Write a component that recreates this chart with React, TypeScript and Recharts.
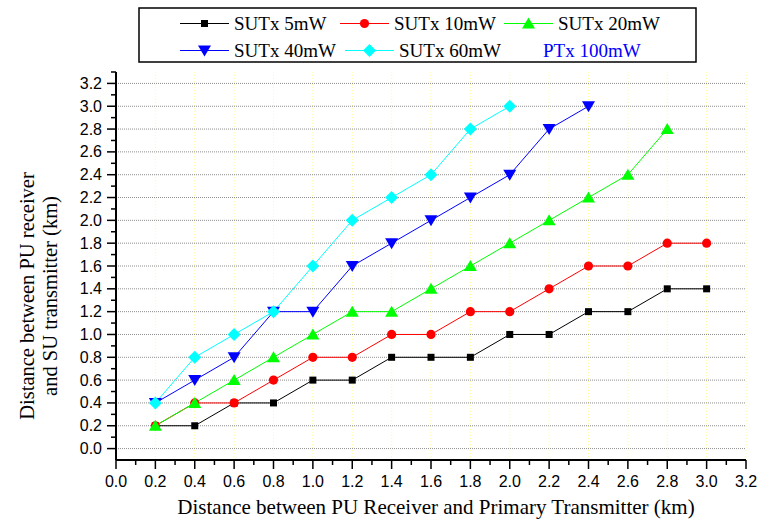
import React from 'react';
import { LineChart, Line, XAxis, YAxis, CartesianGrid } from 'recharts';

// x positions shared by all series (km)
const X_VALUES = [0.2, 0.4, 0.6, 0.8, 1.0, 1.2, 1.4, 1.6, 1.8, 2.0, 2.2, 2.4, 2.6, 2.8, 3.0];

// y values per series (km)
const SUTX_5MW = [0.2, 0.2, 0.4, 0.4, 0.6, 0.6, 0.8, 0.8, 0.8, 1.0, 1.0, 1.2, 1.2, 1.4, 1.4];
const SUTX_10MW = [0.2, 0.4, 0.4, 0.6, 0.8, 0.8, 1.0, 1.0, 1.2, 1.2, 1.4, 1.6, 1.6, 1.8, 1.8];
const SUTX_20MW = [0.2, 0.4, 0.6, 0.8, 1.0, 1.2, 1.2, 1.4, 1.6, 1.8, 2.0, 2.2, 2.4, 2.8];
const SUTX_40MW = [0.4, 0.6, 0.8, 1.2, 1.2, 1.6, 1.8, 2.0, 2.2, 2.4, 2.8, 3.0];
const SUTX_60MW = [0.4, 0.8, 1.0, 1.2, 1.6, 2.0, 2.2, 2.4, 2.8, 3.0];

// ticks: majors get a label, minors are short marks only
const X_TICKS = [0, 0.1, 0.2, 0.3, 0.4, 0.5, 0.6, 0.7, 0.8, 0.9, 1.0, 1.1, 1.2, 1.3, 1.4, 1.5, 1.6,
  1.7, 1.8, 1.9, 2.0, 2.1, 2.2, 2.3, 2.4, 2.5, 2.6, 2.7, 2.8, 2.9, 3.0, 3.1, 3.2];
const Y_TICKS = [-0.1, 0, 0.1, 0.2, 0.3, 0.4, 0.5, 0.6, 0.7, 0.8, 0.9, 1.0, 1.1, 1.2, 1.3, 1.4, 1.5, 1.6,
  1.7, 1.8, 1.9, 2.0, 2.1, 2.2, 2.3, 2.4, 2.5, 2.6, 2.7, 2.8, 2.9, 3.0, 3.1, 3.2, 3.3];
const X_GRID = [0.2, 0.4, 0.6, 0.8, 1.0, 1.2, 1.4, 1.6, 1.8, 2.0, 2.2, 2.4, 2.6, 2.8, 3.0, 3.2];
const Y_GRID = [0, 0.2, 0.4, 0.6, 0.8, 1.0, 1.2, 1.4, 1.6, 1.8, 2.0, 2.2, 2.4, 2.6, 2.8, 3.0, 3.2];

const SERIES_NAMES = ['SUTx 5mW', 'SUTx 10mW', 'SUTx 20mW', 'SUTx 40mW', 'SUTx 60mW'];
const EXTRA_LEGEND = 'PTx 100mW';
const X_TITLE = 'Distance between PU Receiver and Primary Transmitter (km)';
const Y_TITLE = ['Distance between PU receiver', 'and SU transmitter (km)'];

const SERIF = '"Liberation Serif", "Times New Roman", serif';
const SANS = '"Liberation Sans", Arial, sans-serif';

type Shape = 'square' | 'circle' | 'up' | 'down' | 'diamond';

const series = [
  { name: SERIES_NAMES[0], ys: SUTX_5MW, color: '#000000', shape: 'square' as Shape },
  { name: SERIES_NAMES[1], ys: SUTX_10MW, color: '#ff0000', shape: 'circle' as Shape },
  { name: SERIES_NAMES[2], ys: SUTX_20MW, color: '#00ff00', shape: 'up' as Shape },
  { name: SERIES_NAMES[3], ys: SUTX_40MW, color: '#0000ff', shape: 'down' as Shape },
  { name: SERIES_NAMES[4], ys: SUTX_60MW, color: '#00ffff', shape: 'diamond' as Shape },
].map((s) => ({ ...s, data: s.ys.map((y, i) => ({ x: X_VALUES[i], y })) }));

const Marker = ({ cx, cy, shape, color }: { cx: number; cy: number; shape: Shape; color: string }) => {
  switch (shape) {
    case 'square':
      return <rect x={cx - 3.5} y={cy - 3.5} width={7} height={7} fill={color} />;
    case 'circle':
      return <circle cx={cx} cy={cy} r={4.6} fill={color} />;
    case 'up':
      return <polygon points={`${cx},${cy - 6} ${cx - 6.5},${cy + 5} ${cx + 6.5},${cy + 5}`} fill={color} />;
    case 'down':
      return <polygon points={`${cx},${cy + 6} ${cx - 6.5},${cy - 5} ${cx + 6.5},${cy - 5}`} fill={color} />;
    default:
      return <polygon points={`${cx},${cy - 6.5} ${cx + 6.5},${cy} ${cx},${cy + 6.5} ${cx - 6.5},${cy}`} fill={color} />;
  }
};

const isMajor = (v: number) => Math.round(v * 10) % 2 === 0;

const XTick = ({ x, y, payload }: any) => {
  const v = payload.value;
  const major = isMajor(v);
  return (
    <g>
      <line x1={x} y1={y} x2={x} y2={y + (major ? 9 : 5)} stroke="#000" strokeWidth={1.5} />
      {major && (
        <text x={x} y={y + 27} textAnchor="middle" fontFamily={SANS} fontSize={16} fill="#000">
          {v.toFixed(1)}
        </text>
      )}
    </g>
  );
};

const YTick = ({ x, y, payload }: any) => {
  const v = payload.value;
  const major = isMajor(v);
  if (v < 0) return <g />;
  return (
    <g>
      <line x1={x} y1={y} x2={x - (major ? 9 : 5)} y2={y} stroke="#000" strokeWidth={1.5} />
      {major && (
        <text x={x - 14} y={y + 5.5} textAnchor="end" fontFamily={SANS} fontSize={16} fill="#000">
          {v.toFixed(1)}
        </text>
      )}
    </g>
  );
};

// legend slots (line start x, row)
const LEGEND_SLOTS = [
  { x: 180, row: 0 },
  { x: 340, row: 0 },
  { x: 504, row: 0 },
  { x: 180, row: 1 },
  { x: 345, row: 1 },
];
const ROW_Y = [23.5, 50.5];

const Overlay = () => (
  <svg width={757} height={520} style={{ position: 'absolute', left: 0, top: 0, pointerEvents: 'none' }}>
    <rect x={139} y={8} width={557} height={54} fill="none" stroke="#000" strokeWidth={1.5} />
    {series.map((s, i) => {
      const slot = LEGEND_SLOTS[i];
      const cy = ROW_Y[slot.row];
      return (
        <g key={s.name}>
          <line x1={slot.x} y1={cy} x2={slot.x + 49} y2={cy} stroke={s.color} strokeWidth={1.2} />
          <Marker cx={slot.x + 24.5} cy={cy} shape={s.shape} color={s.color} />
          <text x={slot.x + 54} y={cy + 6.5} fontFamily={SERIF} fontSize={19} fill="#000">
            {s.name}
          </text>
        </g>
      );
    })}
    <text x={543} y={ROW_Y[1] + 6.5} fontFamily={SERIF} fontSize={19} fill="#0000ff">
      {EXTRA_LEGEND}
    </text>
    <text x={436} y={514} textAnchor="middle" fontFamily={SERIF} fontSize={21} fill="#000">
      {X_TITLE}
    </text>
    {Y_TITLE.map((t, i) => (
      <text
        key={t}
        x={0}
        y={0}
        transform={`translate(${34 + i * 23}, 296) rotate(-90)`}
        textAnchor="middle"
        fontFamily={SERIF}
        fontSize={20.5}
        fill="#000"
      >
        {t}
      </text>
    ))}
  </svg>
);

export default function App() {
  return (
    <div style={{ position: 'absolute', left: 0, top: 0, width: 757, height: 520, background: '#fff' }}>
      <LineChart width={757} height={520} margin={{ top: 72, right: 11, bottom: 0, left: 0 }}>
        <CartesianGrid
          horizontal={false}
          verticalValues={X_GRID}
          stroke="#ffff70"
          strokeWidth={0.8}
          strokeDasharray="1 2"
        />
        <CartesianGrid
          vertical={false}
          horizontalValues={Y_GRID}
          stroke="#808080"
          strokeWidth={0.9}
          strokeDasharray="1 1"
        />
        <XAxis
          type="number"
          dataKey="x"
          domain={[0, 3.2]}
          ticks={X_TICKS}
          interval={0}
          height={60}
          tickSize={0}
          tickMargin={0}
          tickLine={false}
          tick={<XTick />}
          axisLine={{ stroke: '#000', strokeWidth: 2 }}
          allowDataOverflow
        />
        <YAxis
          type="number"
          dataKey="y"
          domain={[-0.1, 3.3]}
          ticks={Y_TICKS}
          interval={0}
          width={116}
          tickSize={0}
          tickMargin={0}
          tickLine={false}
          tick={<YTick />}
          axisLine={{ stroke: '#000', strokeWidth: 2 }}
          allowDataOverflow
        />
        {series.map((s) => (
          <Line
            key={s.name}
            data={s.data}
            dataKey="y"
            name={s.name}
            stroke={s.color}
            strokeWidth={1}
            isAnimationActive={false}
            activeDot={false}
            dot={(p: any) => (
              <Marker key={`${s.name}-${p.index}`} cx={p.cx} cy={p.cy} shape={s.shape} color={s.color} />
            )}
          />
        ))}
      </LineChart>
      <Overlay />
    </div>
  );
}
